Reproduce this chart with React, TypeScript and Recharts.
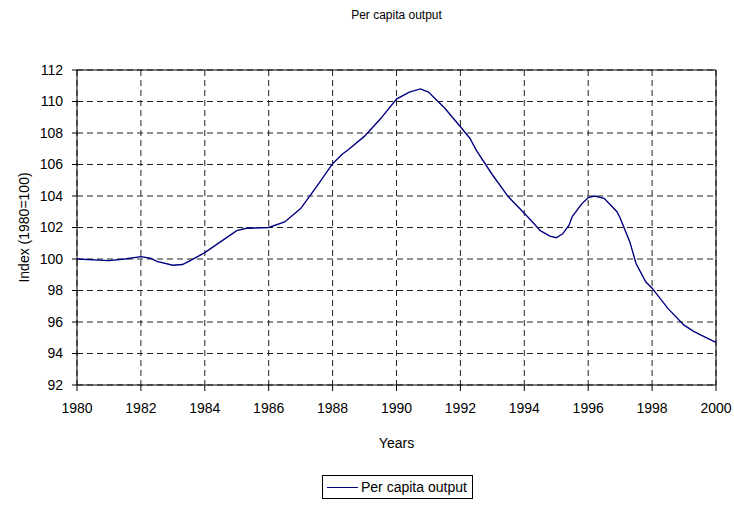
import { LineChart, Line, XAxis, YAxis, CartesianGrid, ReferenceLine } from 'recharts';

const years = [
  1980, 1981, 1981.5, 1982, 1982.3, 1982.5, 1983, 1983.3, 1983.5, 1984, 1984.5,
  1985, 1985.3, 1986, 1986.5, 1987, 1987.5, 1988, 1988.3, 1988.5, 1989, 1989.5,
  1990, 1990.4, 1990.75, 1991, 1991.3, 1991.5, 1992, 1992.3, 1992.5, 1993, 1993.5,
  1994, 1994.3, 1994.5, 1994.8, 1995, 1995.2, 1995.4, 1995.5, 1995.8,
  1996, 1996.2, 1996.5, 1996.9, 1997, 1997.3, 1997.5, 1997.8, 1998, 1998.5,
  1999, 1999.3, 1999.5, 2000,
];

const perCapita = [
  100.0, 99.9, 100.0, 100.15, 100.05, 99.85, 99.6, 99.65, 99.85, 100.4, 101.1,
  101.8, 101.95, 102.0, 102.35, 103.2, 104.6, 106.05, 106.65, 106.95, 107.8, 108.9,
  110.15, 110.6, 110.8, 110.6, 110.0, 109.6, 108.4, 107.65, 106.9, 105.35, 103.95,
  102.9, 102.25, 101.8, 101.45, 101.35, 101.6, 102.15, 102.7, 103.5,
  103.9, 104.0, 103.85, 103.0, 102.6, 101.1, 99.7, 98.55, 98.15, 96.85,
  95.8, 95.4, 95.2, 94.7,
];

const xTicks = [1980, 1982, 1984, 1986, 1988, 1990, 1992, 1994, 1996, 1998, 2000];
const yTicks = [92, 94, 96, 98, 100, 102, 104, 106, 108, 110, 112];

const FONT = '"Liberation Sans", Arial, sans-serif';
const NAVY = '#000080';

const data = years.map((y, i) => ({ year: y, value: perCapita[i] }));

export default function App() {
  return (
    <div style={{ position: 'absolute', left: 0, top: 0, width: 734, height: 508, background: '#fff', fontFamily: FONT }}>
      <div style={{ position: 'absolute', left: 77, width: 639, top: 8, textAlign: 'center', fontSize: 12, color: '#000' }}>
        Per capita output
      </div>
      <LineChart width={734} height={508} data={data} margin={{ top: 70, right: 18, left: 7, bottom: 93 }}>
        <CartesianGrid stroke="#222" strokeDasharray="6 4" />
        <XAxis
          dataKey="year"
          type="number"
          domain={[1980, 2000]}
          ticks={xTicks}
          interval={0}
          height={30}
          stroke="#000"
          tickSize={6}
          tickMargin={12}
          tick={{ fill: '#000', fontSize: 14, fontFamily: FONT }}
          label={{ value: 'Years', position: 'bottom', offset: 23, fill: '#000', fontSize: 14, fontFamily: FONT }}
        />
        <YAxis
          type="number"
          domain={[92, 112]}
          ticks={yTicks}
          interval={0}
          width={70}
          stroke="#000"
          tickSize={5}
          tickMargin={9}
          tick={{ fill: '#000', fontSize: 14, fontFamily: FONT }}
          label={{
            value: 'Index (1980=100)', angle: -90, position: 'insideLeft', offset: 17,
            fill: '#000', fontSize: 14, fontFamily: FONT, style: { textAnchor: 'middle' },
          }}
        />
        <ReferenceLine y={112} stroke="#000" />
        <ReferenceLine x={2000} stroke="#000" />
        <Line type="linear" dataKey="value" stroke={NAVY} strokeWidth={1.4} dot={false} isAnimationActive={false} />
      </LineChart>
      <div style={{
        position: 'absolute', left: 322, top: 475, width: 151, height: 24, border: '1px solid #000',
        boxSizing: 'border-box', display: 'flex', alignItems: 'center', fontSize: 14, color: '#000', whiteSpace: 'nowrap',
      }}>
        <span style={{ display: 'inline-block', width: 31, height: 0, borderTop: `1.5px solid ${NAVY}`, marginLeft: 4, marginRight: 3 }} />
        Per capita output
      </div>
    </div>
  );
}
